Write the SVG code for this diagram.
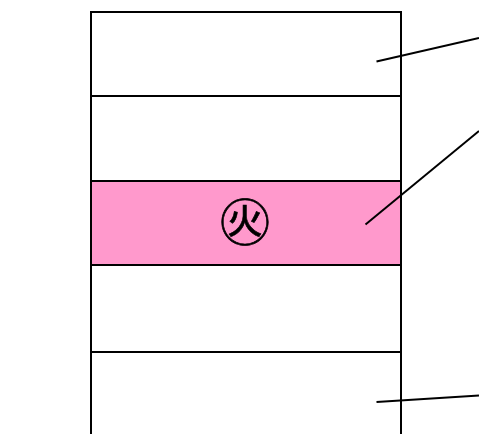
<svg xmlns="http://www.w3.org/2000/svg" width="479" height="434" viewBox="0 0 479 434">
<style>
.cell{fill:#ffffff;stroke:#000;stroke-width:2}
.fire{fill:#ff99cc;stroke:#000;stroke-width:2}
.lead{stroke:#000;stroke-width:2;fill:none}
.sym{font-family:"Noto Sans CJK JP","Noto Sans CJK SC",sans-serif;font-size:50px;fill:#000;stroke:#000;stroke-width:0.6}
</style>
<rect width="479" height="434" fill="#ffffff"/>
<g id="row1"><rect class="cell" x="91" y="12" width="310" height="84"/></g>
<g id="row2"><rect class="cell" x="91" y="96" width="310" height="85"/></g>
<g id="row3"><rect class="fire" x="91" y="181" width="310" height="84"/>
<text class="sym" x="245" y="219" text-anchor="middle" dominant-baseline="central">㊋</text></g>
<g id="row4"><rect class="cell" x="91" y="265" width="310" height="87"/></g>
<g id="row5"><path class="cell" d="M91,440 V352 H401 V440"/></g>
<g id="connectors">
<line class="lead" x1="376.5" y1="61.5" x2="479" y2="38"/>
<line class="lead" x1="365.5" y1="224.5" x2="479" y2="131"/>
<line class="lead" x1="376.5" y1="402" x2="479" y2="395.5"/>
</g>
</svg>
